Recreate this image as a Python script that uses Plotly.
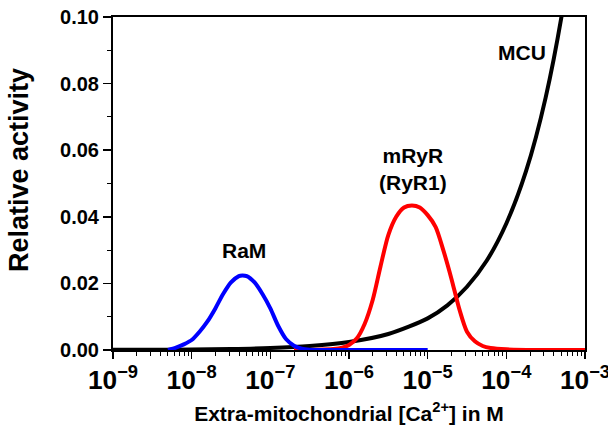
import math
import plotly.graph_objects as go

# Extra-mitochondrial [Ca2+] (M) and relative activity
conc_ram = [5.0e-9, 6.31e-9, 7.94e-9, 1.0e-8, 1.26e-8, 1.58e-8, 2.0e-8, 2.51e-8,
            3.16e-8, 3.98e-8, 4.4e-8, 5.01e-8, 6.31e-8, 7.94e-8, 1.0e-7, 1.26e-7,
            1.58e-7, 2.0e-7, 2.51e-7, 3.16e-7, 5.01e-7, 1.0e-6, 1.0e-5]
act_ram = [0.0, 0.0007, 0.0017, 0.0030, 0.0055, 0.0085, 0.0125, 0.0168,
           0.0203, 0.0222, 0.0224, 0.0222, 0.0203, 0.0168, 0.0125, 0.0072,
           0.0033, 0.0013, 0.0004, 0.0001, 0.0, 0.0, 0.0]

conc_ryr = [2.0e-7, 3.98e-7, 6.31e-7, 7.94e-7, 1.0e-6, 1.26e-6, 1.58e-6, 2.0e-6,
            2.51e-6, 3.16e-6, 3.98e-6, 5.01e-6, 6.31e-6, 7.94e-6, 1.0e-5, 1.26e-5,
            1.58e-5, 2.0e-5, 2.51e-5, 3.16e-5, 3.98e-5, 5.01e-5, 6.31e-5, 1.0e-4,
            3.16e-4, 1.0e-3]
act_ryr = [0.0, 0.0001, 0.0003, 0.0006, 0.0015, 0.0035, 0.0078, 0.0150,
           0.0250, 0.0345, 0.0400, 0.0428, 0.0434, 0.0428, 0.0405, 0.0370,
           0.0300, 0.0215, 0.0125, 0.0055, 0.0026, 0.0012, 0.0006, 0.0002,
           0.0, 0.0]

conc_mcu = [1.0e-9, 3.16e-9, 1.0e-8, 3.16e-8, 1.0e-7, 3.16e-7, 1.0e-6, 3.16e-6,
            1.0e-5, 1.78e-5, 3.16e-5, 5.62e-5, 1.0e-4, 1.78e-4, 3.16e-4, 5.62e-4, 1.0e-3]
act_mcu = [0.00004, 0.00008, 0.00015, 0.0003, 0.0006, 0.0012, 0.0024, 0.0048,
           0.0095, 0.0134, 0.0190, 0.0268, 0.0380, 0.0537, 0.0758, 0.1070, 0.1510]

labels = ["RaM", "mRyR<br>(RyR1)", "MCU"]
label_x = [4.6e-8, 6.5e-6, 1.6e-4]
label_y = [0.030, 0.0545, 0.0892]

x_title = "Extra-mitochondrial [Ca<sup>2+</sup>] in M"
y_title = "Relative activity"

FONT = "Liberation Sans, Arial, Helvetica, sans-serif"

fig = go.Figure()
fig.add_trace(go.Scatter(x=conc_mcu, y=act_mcu, mode="lines",
                         line=dict(color="black", width=4, shape="spline", smoothing=0.8),
                         showlegend=False, hoverinfo="skip"))
fig.add_trace(go.Scatter(x=conc_ryr, y=act_ryr, mode="lines",
                         line=dict(color="#ff0000", width=4, shape="spline", smoothing=0.8),
                         showlegend=False, hoverinfo="skip"))
fig.add_trace(go.Scatter(x=conc_ram, y=act_ram, mode="lines",
                         line=dict(color="#0000ff", width=4, shape="spline", smoothing=0.8),
                         showlegend=False, hoverinfo="skip"))

for t, xv, yv in zip(labels, label_x, label_y):
    fig.add_annotation(x=math.log10(xv), y=yv, xref="x", yref="y", text=t,
                       showarrow=False,
                       font=dict(family=FONT, size=21, color="black", weight="bold"))

# y-axis title placed as an annotation (slightly above the axis centre, as in the reference)
fig.add_annotation(x=-0.199, y=0.5405, xref="paper", yref="paper", text=y_title,
                   textangle=-90, showarrow=False, xanchor="center", yanchor="middle",
                   font=dict(family=FONT, size=27, color="black", weight="bold"))

fig.update_layout(
    width=608, height=429,
    margin=dict(l=113, r=23, t=17, b=79),
    paper_bgcolor="white", plot_bgcolor="white",
    font=dict(family=FONT, color="black", weight="bold"),
    hovermode=False,
    xaxis=dict(type="log", range=[-9, -3], dtick=1, exponentformat="power",
               automargin=False, ticklabeloverflow="allow",
               showline=True, linecolor="black", linewidth=2, mirror=True,
               ticks="outside", ticklen=7, tickwidth=1.5, tickcolor="black",
               tickfont=dict(family=FONT, size=21, weight="bold"),
               minor=dict(ticks="outside", ticklen=4, tickwidth=1, tickcolor="black",
                          dtick="D1", showgrid=False),
               showgrid=False, zeroline=False,
               title=dict(text=x_title,
                          font=dict(family=FONT, size=21, weight="bold"), standoff=12)),
    yaxis=dict(range=[0, 0.1], dtick=0.02, tickformat=".2f",
               automargin=False, ticklabeloverflow="allow",
               showline=True, linecolor="black", linewidth=2, mirror=True,
               ticks="outside", ticklen=8, tickwidth=1.5, tickcolor="black",
               tickfont=dict(family=FONT, size=20, weight="bold"),
               minor=dict(ticks="outside", ticklen=4, tickwidth=1, tickcolor="black",
                          dtick=0.01, showgrid=False),
               showgrid=False, zeroline=False),
)

fig.write_html("out.html",
               config={"displayModeBar": False, "staticPlot": True},
               post_script="document.body.style.margin='0px';"
                           "document.body.style.overflow='hidden';")
